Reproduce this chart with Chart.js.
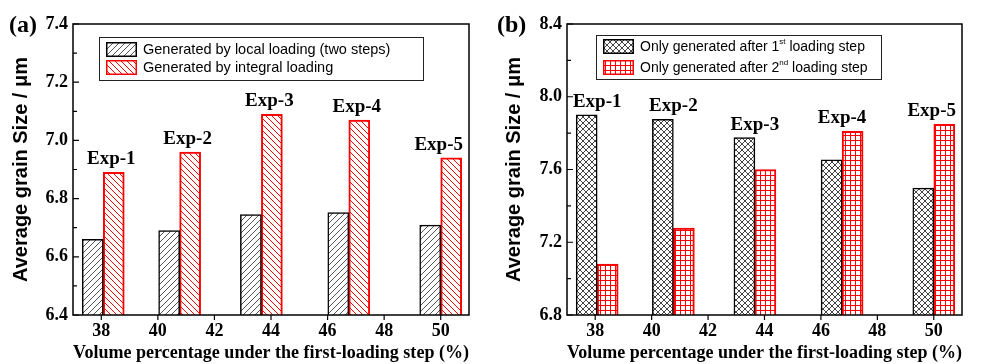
<!DOCTYPE html>
<html>
<head>
<meta charset="utf-8">
<script src="https://cdn.jsdelivr.net/npm/chart.js@4/dist/chart.umd.min.js"></script>
<style>
  html, body { margin: 0; padding: 0; background: #fff; }
  #wrap { position: relative; width: 981px; height: 364px; overflow: hidden; }
  #panel-a { position: absolute; left: 0; top: 0; }
  #panel-b { position: absolute; left: 490px; top: 0; }
</style>
</head>
<body>
<div id="wrap">
  <canvas id="panel-a" width="490" height="364"></canvas>
  <canvas id="panel-b" width="491" height="364"></canvas>
</div>
<script>
/* global Chart */
// x positions of the five experiments (volume % under first loading step)
const volumePct = [38.07, 40.77, 43.66, 46.75, 50.0];
const expLabels = ['Exp-1', 'Exp-2', 'Exp-3', 'Exp-4', 'Exp-5'];
const xTicks = [38, 40, 42, 44, 46, 48, 50];

// panel (a)
const localLoading = [6.66, 6.69, 6.745, 6.752, 6.709];
const integralLoading = [6.89, 6.96, 7.09, 7.07, 6.94];
const yTicksA = [6.4, 6.6, 6.8, 7.0, 7.2, 7.4];

// panel (b)
const firstStepOnly = [7.90, 7.876, 7.775, 7.653, 7.498];
const secondStepOnly = [7.08, 7.278, 7.60, 7.81, 7.848];
const yTicksB = [6.8, 7.2, 7.6, 8.0, 8.4];

const SERIF = '"Liberation Serif", "Times New Roman", serif';
const SANS = '"Liberation Sans", Arial, sans-serif';

function makePattern(kind, color, size) {
  const c = document.createElement('canvas');
  c.width = size;
  c.height = size;
  const g = c.getContext('2d');
  g.fillStyle = '#fff';
  g.fillRect(0, 0, size, size);
  g.strokeStyle = color;
  g.lineWidth = 1;
  g.beginPath();
  if (kind === 'up' || kind === 'cross') {
    g.moveTo(-1, size + 1); g.lineTo(size + 1, -1);
    g.moveTo(-1, 1); g.lineTo(1, -1);
    g.moveTo(size - 1, size + 1); g.lineTo(size + 1, size - 1);
  }
  if (kind === 'down' || kind === 'cross') {
    g.moveTo(-1, -1); g.lineTo(size + 1, size + 1);
    g.moveTo(size - 1, -1); g.lineTo(size + 1, 1);
    g.moveTo(-1, size - 1); g.lineTo(1, size + 1);
  }
  if (kind === 'grid') {
    g.moveTo(0.5, 0); g.lineTo(0.5, size);
    g.moveTo(0, 0.5); g.lineTo(size, 0.5);
  }
  g.stroke();
  return g.createPattern(c, 'repeat');
}

const fills = {
  hatchUp: makePattern('up', '#555', 6),
  hatchDown: makePattern('down', '#ff0000', 6),
  cross: makePattern('cross', '#444', 6),
  grid: makePattern('grid', '#ff0000', 5),
};

// axes frame, inward y ticks, outward x ticks, Exp labels, legend, panel tag
const decorPlugin = {
  id: 'decor',
  afterDraw(chart, _args, opts) {
    const { ctx, chartArea: area, scales: { x, y } } = chart;
    ctx.save();
    ctx.strokeStyle = '#000';
    ctx.lineWidth = 1.5;
    ctx.strokeRect(area.left, area.top, area.right - area.left, area.bottom - area.top);

    ctx.lineWidth = 1.2;
    ctx.beginPath();
    const majors = opts.yTicks;
    majors.forEach((v, i) => {
      const py = y.getPixelForValue(v);
      ctx.moveTo(area.left, py); ctx.lineTo(area.left + 6, py);
      if (i < majors.length - 1) {
        const my = y.getPixelForValue((v + majors[i + 1]) / 2);
        ctx.moveTo(area.left, my); ctx.lineTo(area.left + 4, my);
      }
    });
    xTicks.forEach(v => {
      const px = x.getPixelForValue(v);
      ctx.moveTo(px, area.bottom); ctx.lineTo(px, area.bottom + 5);
    });
    ctx.stroke();

    // Exp-n labels above each group
    ctx.fillStyle = '#000';
    ctx.font = `bold 19px ${SERIF}`;
    ctx.textAlign = 'center';
    ctx.textBaseline = 'middle';
    expLabels.forEach((label, i) => {
      const top = Math.max(...chart.data.datasets.map(d => d.data[i].y));
      const w = ctx.measureText(label).width;
      let px = x.getPixelForValue(volumePct[i]) + opts.labelDx;
      px = Math.min(px, area.right - w / 2 - 6);
      ctx.fillText(label, px, y.getPixelForValue(top) - 13);
    });

    // legend box inside plot
    const lg = opts.legend;
    const bx = area.left + lg.x;
    const by = area.top + lg.y;
    ctx.lineWidth = 1;
    ctx.strokeStyle = '#222';
    ctx.strokeRect(bx + 0.5, by + 0.5, lg.w, lg.h);
    ctx.textAlign = 'left';
    chart.data.datasets.forEach((ds, i) => {
      const sy = by + lg.rowTop + i * lg.rowStep;
      const sx = bx + 7;
      ctx.fillStyle = ds.backgroundColor;
      ctx.fillRect(sx, sy, 31, 15);
      ctx.strokeStyle = ds.borderColor;
      ctx.lineWidth = 1.5;
      ctx.strokeRect(sx + 0.75, sy + 0.75, 29.5, 13.5);
      ctx.fillStyle = '#000';
      let tx = sx + 37;
      const ty = sy + 8;
      ds.legendParts.forEach(part => {
        if (part.sup) {
          ctx.font = `${Math.round(lg.fontSize * 0.6)}px ${SANS}`;
          ctx.fillText(part.text, tx, ty - 5);
        } else {
          ctx.font = `${lg.fontSize}px ${SANS}`;
          ctx.fillText(part.text, tx, ty);
        }
        tx += ctx.measureText(part.text).width;
      });
    });

    // panel tag
    ctx.font = `bold 24px ${SERIF}`;
    ctx.textAlign = 'left';
    ctx.fillStyle = '#000';
    ctx.fillText(opts.tag, opts.tagX, 26);
    ctx.restore();
  },
};

function buildPanel(canvasId, cfg) {
  return new Chart(document.getElementById(canvasId), {
    type: 'bar',
    data: {
      datasets: cfg.series.map(s => ({
        label: s.legendParts.map(p => p.text).join(''),
        legendParts: s.legendParts,
        data: volumePct.map((v, i) => ({ x: v, y: s.values[i] })),
        backgroundColor: s.fill,
        borderColor: s.edge,
        borderWidth: s.edgeWidth,
        barThickness: 21,
      })),
    },
    options: {
      responsive: false,
      animation: false,
      layout: { padding: { left: 0, top: 24, right: cfg.padRight, bottom: 0 } },
      plugins: {
        legend: { display: false },
        tooltip: { enabled: false },
        decor: {
          yTicks: cfg.yTicks,
          labelDx: cfg.labelDx,
          legend: cfg.legend,
          tag: cfg.tag,
          tagX: cfg.tagX,
        },
      },
      scales: {
        x: {
          type: 'linear',
          min: 37,
          max: 51,
          offset: false,
          grid: { display: false, drawTicks: false },
          border: { display: false },
          afterBuildTicks: s => { s.ticks = xTicks.map(v => ({ value: v })); },
          afterFit: s => { s.height = 49; },
          ticks: { color: '#000', padding: 6, font: { family: SERIF, weight: 'bold', size: 18 } },
          title: {
            display: true,
            text: 'Volume percentage under the first-loading step (%)',
            color: '#000',
            font: { family: SERIF, weight: 'bold', size: 18.5 },
            padding: { top: 0, bottom: 0 },
          },
        },
        y: {
          min: cfg.yTicks[0],
          max: cfg.yTicks[cfg.yTicks.length - 1],
          grid: { display: false, drawTicks: false },
          border: { display: false },
          afterBuildTicks: s => { s.ticks = cfg.yTicks.map(v => ({ value: v })); },
          afterFit: s => { s.width = cfg.yWidth; },
          ticks: {
            color: '#000',
            padding: 5,
            font: { family: SERIF, weight: 'bold', size: 18 },
            callback: v => v.toFixed(1),
          },
          title: {
            display: true,
            text: 'Average grain Size / μm',
            color: '#000',
            font: { family: SANS, weight: 'bold', size: 20 },
            padding: { top: cfg.titlePad, bottom: 0 },
          },
        },
      },
    },
    plugins: [decorPlugin],
  });
}

buildPanel('panel-a', {
  yTicks: yTicksA,
  yWidth: 73,
  padRight: 21,
  titlePad: 9,
  labelDx: 8,
  tag: '(a)',
  tagX: 9,
  legend: { x: 26, y: 13, w: 324, h: 43, rowTop: 5, rowStep: 18, fontSize: 14.5 },
  series: [
    { legendParts: [{ text: 'Generated by local loading (two steps)' }], values: localLoading, fill: fills.hatchUp, edge: '#000', edgeWidth: 1.5 },
    { legendParts: [{ text: 'Generated by integral loading' }], values: integralLoading, fill: fills.hatchDown, edge: '#ff0000', edgeWidth: 2 },
  ],
});

buildPanel('panel-b', {
  yTicks: yTicksB,
  yWidth: 77,
  padRight: 19,
  titlePad: 12,
  labelDx: 0,
  tag: '(b)',
  tagX: 7,
  legend: { x: 29, y: 11, w: 285, h: 44, rowTop: 4, rowStep: 21, fontSize: 14 },
  series: [
    { legendParts: [{ text: 'Only generated after 1' }, { text: 'st', sup: true }, { text: ' loading step' }], values: firstStepOnly, fill: fills.cross, edge: '#000', edgeWidth: 1.5 },
    { legendParts: [{ text: 'Only generated after 2' }, { text: 'nd', sup: true }, { text: ' loading step' }], values: secondStepOnly, fill: fills.grid, edge: '#ff0000', edgeWidth: 2 },
  ],
});
</script>
</body>
</html>
